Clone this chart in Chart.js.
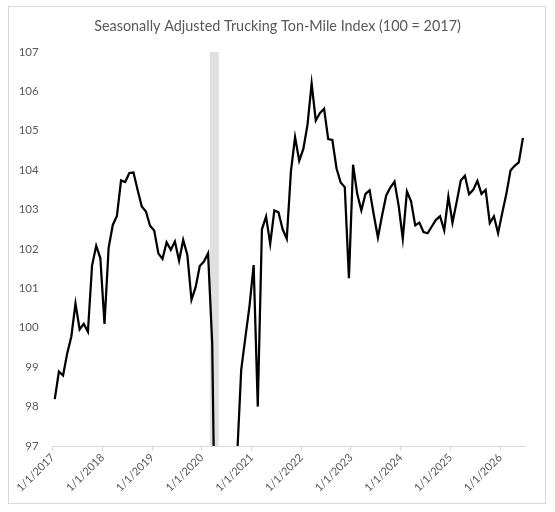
<!DOCTYPE html>
<html>
<head>
<meta charset="utf-8">
<script src="https://cdn.jsdelivr.net/npm/chart.js@4.4.0/dist/chart.umd.min.js"></script>
<style>
  html, body { margin: 0; padding: 0; background: #fff; }
  #wrap { position: relative; width: 555px; height: 512px; }
  #frame { position: absolute; left: 8px; top: 6px; width: 538px; height: 498px; border: 1px solid #d9d9d9; box-sizing: border-box; }
  canvas { position: absolute; left: 0; top: 0; }
</style>
</head>
<body>
<div id="wrap">
  <div id="frame"></div>
  <canvas id="c" width="555" height="512"></canvas>
</div>
<script>
// Monthly index values, Jan 2017 .. Jun 2026 (month index 0..113)
const tonMileIndex = [
  98.19, 98.89, 98.79, 99.35, 99.78, 100.62, 99.96, 100.10, 99.90, 101.58, 102.08, 101.77,
  100.10, 102.03, 102.61, 102.84, 103.74, 103.70, 103.93, 103.94, 103.50, 103.08, 102.95, 102.59,
  102.47, 101.89, 101.75, 102.17, 101.98, 102.19, 101.70, 102.23, 101.85, 100.71, 101.03, 101.57,
  101.68, 101.89, 99.61, 92.00, 93.50, 94.80, 95.70, 96.20, 96.70, 98.93, 99.75, 100.55,
  101.59, 98.00, 102.50, 102.82, 102.13, 102.98, 102.93, 102.50, 102.26, 103.97, 104.84, 104.24,
  104.54, 105.15, 106.20, 105.26, 105.45, 105.56, 104.79, 104.77, 104.05, 103.69, 103.57, 101.26,
  104.14, 103.40, 102.98, 103.40, 103.49, 102.87, 102.29, 102.85, 103.36, 103.56, 103.71, 103.10,
  102.26, 103.46, 103.21, 102.60, 102.67, 102.43, 102.40, 102.57, 102.74, 102.83, 102.47, 103.33,
  102.67, 103.19, 103.74, 103.86, 103.39, 103.50, 103.73, 103.40, 103.50, 102.66, 102.83, 102.40,
  102.91, 103.40, 103.99, 104.11, 104.20, 104.82
];
// Recession shading months (month index): Mar 2020, Apr 2020
const recessionMonths = [38, 39];
// X tick labels (one per January)
const tickLabels = ["1/1/2017","1/1/2018","1/1/2019","1/1/2020","1/1/2021","1/1/2022","1/1/2023","1/1/2024","1/1/2025","1/1/2026"];
const yMin = 97, yMax = 107;

const lineData = tonMileIndex.map((v, i) => ({ x: i, y: v }));
const bandData = recessionMonths.map(m => ({ x: m, y: yMax }));

const textColor = '#595959';
const fontFamily = 'Lato, "Open Sans", sans-serif';

new Chart(document.getElementById('c'), {
  type: 'line',
  data: {
    datasets: [
      {
        type: 'line',
        data: lineData,
        borderColor: '#000000',
        borderWidth: 2.25,
        pointRadius: 0,
        tension: 0,
        fill: false,
        clip: 0,
        order: 1
      },
      {
        type: 'bar',
        data: bandData,
        backgroundColor: '#e0e0e0',
        borderWidth: 0,
        barPercentage: 1,
        categoryPercentage: 1,
        order: 2
      }
    ]
  },
  options: {
    responsive: false,
    animation: false,
    events: [],
    layout: { padding: { left: 0, right: 0, top: 0, bottom: 0 } },
    plugins: {
      legend: { display: false },
      tooltip: { enabled: false },
      title: {
        display: true,
        text: 'Seasonally Adjusted Trucking Ton-Mile Index (100 = 2017)',
        color: textColor,
        font: { family: fontFamily, size: 14.4, weight: 'normal', lineHeight: 1.2 },
        padding: { top: 18, bottom: 16.7 }
      }
    },
    scales: {
      x: {
        type: 'linear',
        min: -0.5,
        max: tonMileIndex.length - 0.5,
        offset: false,
        afterBuildTicks: (scale) => {
          scale.ticks = tickLabels.map((_, k) => ({ value: 12 * k - 0.5 }));
        },
        afterFit: (scale) => { scale.height = 66; },
        border: { display: true, color: '#d9d9d9', width: 1 },
        grid: { display: true, offset: false, drawOnChartArea: false, drawTicks: true, tickLength: 5, color: '#d9d9d9' },
        ticks: {
          autoSkip: false,
          minRotation: 45,
          maxRotation: 45,
          padding: 0,
          color: textColor,
          font: { family: fontFamily, size: 11 },
          callback: (value, index) => tickLabels[index]
        }
      },
      y: {
        type: 'linear',
        position: 'left',
        min: yMin,
        max: yMax,
        afterFit: (scale) => { scale.width = 52.7; },
        border: { display: false },
        grid: { display: false, drawTicks: false },
        ticks: {
          stepSize: 1,
          padding: 14,
          color: textColor,
          font: { family: fontFamily, size: 11.5 }
        }
      },
      yRight: {
        type: 'linear',
        position: 'right',
        min: yMin,
        max: yMax,
        afterFit: (scale) => { scale.width = 30; },
        border: { display: false },
        grid: { display: false, drawTicks: false },
        ticks: { display: false }
      }
    }
  }
});
</script>
</body>
</html>
